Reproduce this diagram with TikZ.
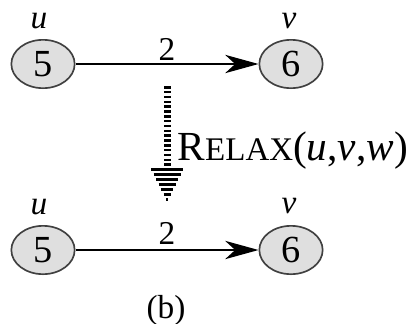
\documentclass[tikz,border=0pt]{standalone}
\usepackage{fontspec}
\setmainfont{Liberation Serif}
\usetikzlibrary{shapes.geometric,arrows.meta}
\begin{document}
\begin{tikzpicture}[
    x=0.3pt, y=-0.3pt,
    vertex/.style={
        draw=black!75, ellipse, line width=0.5pt, fill=gray!25,
        minimum width=19pt, minimum height=14.5pt, inner sep=0pt,
        font=\fontsize{11.5}{14}\selectfont
    },
    vlabel/.style={font=\fontsize{10}{12}\selectfont\itshape},
    wlabel/.style={font=\fontsize{10}{12}\selectfont},
    link/.style={draw, line width=0.45pt, -{Stealth[length=10pt, width=5.5pt, inset=3pt]}},
    relax/.style={line width=2.1pt, dash pattern=on 0.75pt off 0.7pt},
    stripe/.style={line width=0.9pt}
]
\useasboundingbox (0,0) rectangle (410,323);

% ===== Before =====
\node[vertex] (u1) at (43,64) {5};
\node[vertex] (v1) at (291,64) {6};
\node[vlabel] (lu1) at (39,21) {u};
\node[vlabel] (lv1) at (289,21) {v};
\node[wlabel] (w1) at (167,49) {2};
\draw[link] (u1) -- (v1);

% ===== Relax step =====
\coordinate (rtop) at (167,86);
\coordinate (rhead) at (167,167);
\draw[relax] (rtop) -- (rhead);
\foreach \y in {169,174,...,199} {
    \draw[stripe] ({167-16*(201-\y)/32},\y) -- ({167+16*(201-\y)/32},\y);
}
\node[anchor=base west, font=\fontsize{12.4}{13}\selectfont, inner sep=0pt] (rl) at (177,160)
    {R{\fontsize{9.9}{10}\selectfont ELAX}(\textit{u},\textit{v},\textit{w})};

% ===== After =====
\node[vertex] (u2) at (43,250) {5};
\node[vertex] (v2) at (291,250) {6};
\node[vlabel] (lu2) at (39,207) {u};
\node[vlabel] (lv2) at (289,206) {v};
\node[wlabel] (w2) at (167,233) {2};
\draw[link] (u2) -- (v2);

\node[wlabel] (cap) at (166,310) {(b)};

\end{tikzpicture}
\end{document}
